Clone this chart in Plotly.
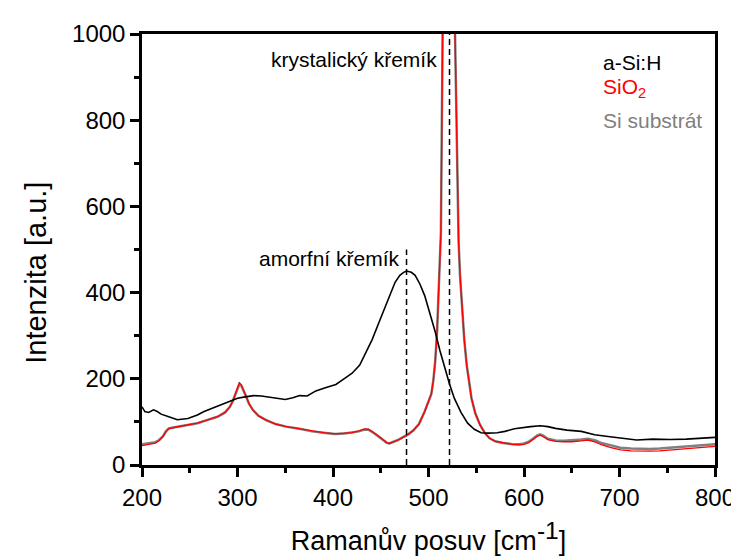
import plotly.graph_objects as go

# ---- data ----
asih_x = [200, 203, 207, 212, 216, 220, 228, 237, 248, 258, 265, 275, 283, 292, 300, 308, 317, 325,
          334, 342, 350, 358, 365, 373, 382, 392, 403, 413, 420, 428, 435, 441, 448, 455, 460, 465,
          470, 474, 477, 479, 482, 486, 491, 496, 501, 507, 512, 517, 522, 527, 534, 541, 548, 555,
          563, 572, 580, 590, 598, 607, 617, 625, 633, 645, 660, 674, 688, 701, 718, 735, 753, 770,
          787, 800]
asih_y = [135, 124, 122, 128, 124, 118, 112, 105, 108, 116, 124, 133, 141, 149, 155, 158, 161, 160,
          157, 155, 152, 156, 161, 160, 172, 179, 187, 202, 213, 232, 262, 291, 330, 370, 398, 424,
          440, 447, 450, 449, 447, 440, 420, 393, 355, 309, 265, 224, 188, 155, 122, 97, 83, 75,
          74, 75, 78, 84, 87, 89, 91, 89, 85, 81, 78, 70, 66, 62, 58, 60, 59, 60,
          63, 64]

sub_x = [200, 205, 210, 214, 218, 222, 225, 228, 233, 238,
         248, 258, 268, 279, 287, 292, 295, 298, 300, 302,
         304, 306, 309, 312, 316, 322, 330, 340, 351, 365,
         378, 390, 402, 412, 420, 427, 433, 437, 441, 446,
         452, 456, 459, 463, 468, 473, 478, 484, 490, 496,
         500, 503, 505, 507, 509, 510.5, 512, 513, 514, 515,
         518, 521, 524, 527, 528, 530, 531.5, 533, 535, 537.5,
         540, 542.5, 545, 549, 554, 559, 564, 570, 578, 587,
         595, 600, 605, 610, 614, 617, 620, 625, 633, 642,
         650, 660, 667, 675, 681, 690, 701, 712, 722, 732,
         742, 755, 770, 785, 800]
sio2_y = [45, 47, 49, 51, 57, 66, 77, 84, 87, 89,
          93, 97, 104, 112, 122, 135, 148, 168, 182, 191,
          186, 176, 160, 143, 128, 114, 104, 95, 89, 84,
          78, 75, 72, 73, 75, 79, 84, 83, 78, 70,
          60, 52, 50, 53, 58, 64, 70, 80, 95, 124,
          145, 165, 195, 240, 310, 390, 470, 540, 800, 1100,
          2000, 2600, 2000, 1100, 950, 680, 520, 440, 370, 290,
          232, 190, 155, 120, 93, 74, 62, 55, 51, 48,
          47, 48, 52, 60, 67, 69, 66, 59, 55, 54,
          54, 56, 58, 53, 47, 41, 35, 33, 32, 32,
          33, 35, 38, 41, 43]
subst_y = [48, 50, 51, 53, 58, 67, 78, 85, 87, 89,
           93, 97, 104, 112, 122, 135, 148, 167, 180, 188,
           184, 175, 159, 142, 128, 114, 104, 95, 89, 84,
           78, 75, 72, 73, 75, 78, 82, 82, 77, 69,
           59, 52, 50, 53, 58, 64, 70, 80, 95, 124,
           145, 165, 195, 240, 310, 390, 470, 540, 800, 1100,
           2000, 2600, 2000, 1100, 950, 680, 520, 440, 370, 290,
           232, 190, 155, 120, 93, 74, 62, 55, 51, 49,
           48, 50, 54, 62, 69, 71, 68, 61, 57, 56,
           57, 59, 61, 57, 51, 46, 40, 38, 37, 37,
           38, 40, 43, 46, 48]

peak_positions = [477, 522]
peak_line_tops = [500, 1000]
peak_labels = ["amorfní křemík", "krystalický křemík"]
series_names = ["a-Si:H", "SiO<sub>2</sub>", "Si substrát"]
series_colors = ["#000000", "#ff0000", "#808080"]
x_title = "Ramanův posuv [cm<sup><span style='font-size:130%'>-1</span></sup>]"
y_title = "Intenzita [a.u.]"

FONT = "Liberation Sans, Arial, sans-serif"

fig = go.Figure()
fig.add_trace(go.Scatter(x=sub_x, y=subst_y, mode="lines", name="Si substrát",
                         line=dict(color=series_colors[2], width=2.5), showlegend=False))
fig.add_trace(go.Scatter(x=sub_x, y=sio2_y, mode="lines", name="SiO2",
                         line=dict(color=series_colors[1], width=1.3), showlegend=False))
fig.add_trace(go.Scatter(x=asih_x, y=asih_y, mode="lines", name="a-Si:H",
                         line=dict(color=series_colors[0], width=1.6), showlegend=False))

for px, top in zip(peak_positions, peak_line_tops):
    fig.add_shape(type="line", xref="x", yref="y", x0=px, x1=px, y0=0, y1=top,
                  line=dict(color="black", width=1.5, dash="6px,4px"))

fig.add_annotation(x=472, y=480, xref="x", yref="y", text=peak_labels[0], showarrow=False,
                   xanchor="right", yanchor="middle", font=dict(family=FONT, size=21, color="black"))
fig.add_annotation(x=511, y=942, xref="x", yref="y", text=peak_labels[1], showarrow=False,
                   xanchor="right", yanchor="middle", font=dict(family=FONT, size=21, color="black"))

legend_y = [935, 875, 799]
for name, col, ly in zip(series_names, series_colors, legend_y):
    fig.add_annotation(x=681, y=ly, xref="x", yref="y", text=name, showarrow=False,
                       xanchor="left", yanchor="middle", font=dict(family=FONT, size=21, color=col))

# y-axis title placed like the reference (slightly below the axis centre)
fig.add_annotation(x=-0.185, y=0.446, xref="paper", yref="paper", text=y_title, showarrow=False,
                   textangle=-90, xanchor="center", yanchor="middle",
                   font=dict(family=FONT, size=29, color="black"))

axis_common = dict(showline=True, linecolor="black", linewidth=2.5, mirror=True,
                   ticks="outside", tickwidth=2.5, ticklen=9, tickcolor="black",
                   showgrid=False, zeroline=False,
                   tickfont=dict(family=FONT, size=24, color="black"))

fig.update_xaxes(range=[200, 800], dtick=100, tick0=200,
                 minor=dict(dtick=50, ticks="outside", ticklen=5, tickwidth=2.5, tickcolor="black"),
                 title=dict(text=x_title, standoff=22,
                            font=dict(family=FONT, size=27, color="black")),
                 **axis_common)
fig.update_yaxes(range=[0, 1000], dtick=200, tick0=0,
                 minor=dict(dtick=100, ticks="outside", ticklen=5, tickwidth=2.5, tickcolor="black"),
                 **axis_common)

fig.update_layout(width=739, height=559, plot_bgcolor="white", paper_bgcolor="white",
                  margin=dict(l=134, r=22, t=24, b=102), showlegend=False)

fig.write_html("out.html")
